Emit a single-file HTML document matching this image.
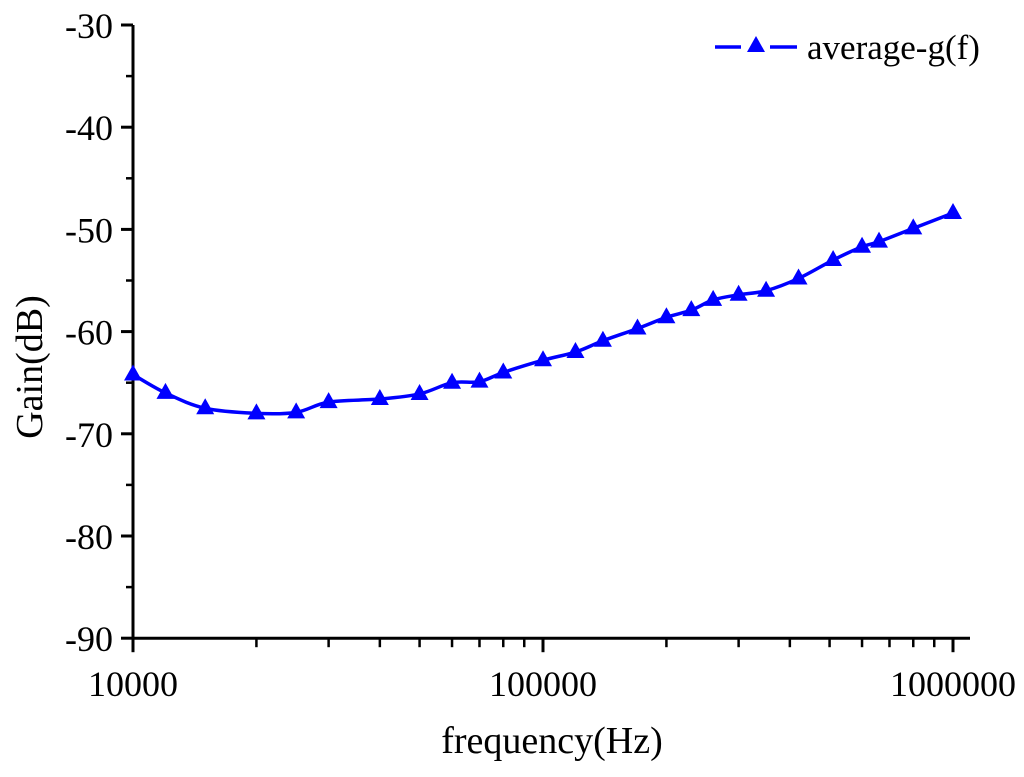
<!DOCTYPE html>
<html><head><meta charset="utf-8"><style>
body{margin:0;background:#fff}
svg text{font-family:"Liberation Serif",serif;fill:#000}
</style></head><body>
<svg id="chart" width="1024" height="772" viewBox="0 0 1024 772" xmlns="http://www.w3.org/2000/svg">
<g id="axes"></g>
<g id="series"></g>
<g>
<line x1="715" y1="47" x2="741" y2="47" stroke="#0000ff" stroke-width="3.5"/>
<line x1="770" y1="47" x2="797" y2="47" stroke="#0000ff" stroke-width="3.5"/>
<polygon points="756,36 765,52 747,52" fill="#0000ff"/>
<text x="807" y="59" font-size="35">average-g(f)</text>
</g>
<text x="552" y="753" font-size="38" text-anchor="middle">frequency(Hz)</text>
<text transform="translate(42,367) rotate(-90)" font-size="38" text-anchor="middle">Gain(dB)</text>
</svg>
<script>
const freqs=[10000,12000,15000,20000,25000,30000,40000,50000,60000,70000,80000,100000,120000,140000,170000,200000,230000,260000,300000,350000,420000,510000,600000,660000,800000,1000000];
const gains=[-64.2,-66,-67.5,-68,-67.9,-66.9,-66.6,-66.1,-65,-64.9,-64,-62.8,-62,-60.9,-59.7,-58.6,-57.9,-56.9,-56.4,-56,-54.8,-53,-51.7,-51.2,-49.9,-48.4];
const yTicks=[-30,-40,-50,-60,-70,-80,-90];
const xTickLabels=["10000","100000","1000000"];
const NS="http://www.w3.org/2000/svg";
const X0=133,DEC=410,Y0=25,YS=10.22;
function xs(f){return X0+DEC*Math.log10(f/1e4);}
function ys(v){return Y0+(-30-v)*YS;}
const ax=document.getElementById('axes');
function mk(tag,at,parent){const e=document.createElementNS(NS,tag);for(const k in at)e.setAttribute(k,at[k]);parent.appendChild(e);return e;}
let l=mk('line',{x1:X0,y1:ys(-90),x2:970,y2:ys(-90),stroke:'#000','stroke-width':3},ax);


l=mk('line',{x1:X0,y1:ys(-90)+1.5,x2:X0,y2:ys(-30),stroke:'#000','stroke-width':3},ax);


yTicks.forEach(v=>{
 const t=mk('line',{x1:X0-12,y1:ys(v),x2:X0,y2:ys(v),stroke:'#000','stroke-width':3},ax);
 
 
 if(v>-90){const m=mk('line',{x1:X0-7,y1:ys(v-5),x2:X0,y2:ys(v-5),stroke:'#000','stroke-width':2.5},ax);
 
 }
 const tx=mk('text',{x:X0-20,y:ys(v)+13,'font-size':36,'text-anchor':'end'},ax);
 tx.textContent=v;
 
 
});
xTickLabels.forEach(s=>{
 const f=+s,x=xs(f);
 const t=mk('line',{x1:x,y1:ys(-90),x2:x,y2:ys(-90)+14,stroke:'#000','stroke-width':3},ax);
 
 
 const tx=mk('text',{x:x,y:ys(-90)+58,'font-size':36,'text-anchor':'middle'},ax);
 tx.textContent=s;
 
 
 for(let k=2;k<=9&&f<1e6;k++){const mx=xs(f*k);
  const m=mk('line',{x1:mx,y1:ys(-90),x2:mx,y2:ys(-90)+9,stroke:'#000','stroke-width':2.5},ax);
  
  }
});
const sg=document.getElementById('series');
const P=freqs.map((f,i)=>[xs(f),ys(gains[i])]);
let d='M'+P[0][0]+','+P[0][1];
for(let i=0;i<P.length-1;i++){
 const p0=P[Math.max(0,i-1)],p1=P[i],p2=P[i+1],p3=P[Math.min(P.length-1,i+2)];
 const c1=[p1[0]+(p2[0]-p0[0])/6,p1[1]+(p2[1]-p0[1])/6],c2=[p2[0]-(p3[0]-p1[0])/6,p2[1]-(p3[1]-p1[1])/6];
 d+=' C'+c1+' '+c2+' '+p2;
}
const path=mk('path',{d:d,fill:'none',stroke:'#0000ff','stroke-width':3.5},sg);


P.forEach(p=>{
 const tri=mk('polygon',{points:`${p[0]},${p[1]-10} ${p[0]+9},${p[1]+6} ${p[0]-9},${p[1]+6}`,fill:'#0000ff'},sg);
 
 
});
</script>
</body></html>
